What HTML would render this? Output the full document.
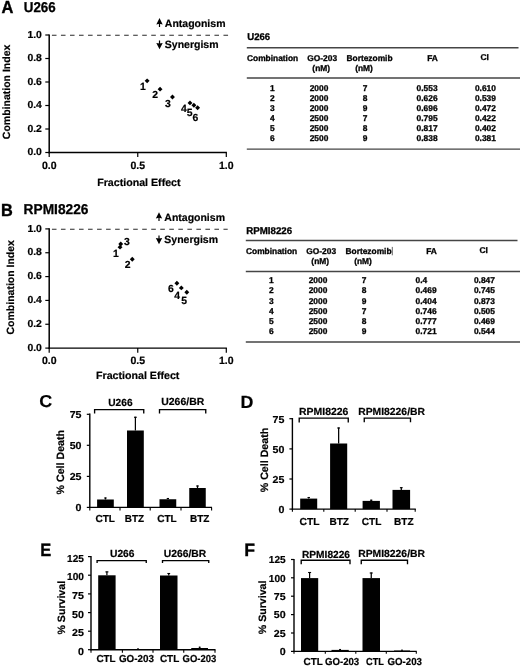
<!DOCTYPE html>
<html><head><meta charset="utf-8"><title>Figure</title>
<style>
html,body{margin:0;padding:0;background:#fff;}
body{width:520px;height:668px;overflow:hidden;font-family:"Liberation Sans",sans-serif;}
svg{display:block;will-change:transform;opacity:0.999}
svg text{font-family:"Liberation Sans",sans-serif;font-weight:bold;stroke:#000;stroke-width:0.2px;text-rendering:geometricPrecision;}
</style></head><body>
<svg width="520" height="668" viewBox="0 0 520 668">
<rect width="520" height="668" fill="#fff"/>
<text x="1.4" y="13.4" font-size="17.6" textLength="11.9" lengthAdjust="spacingAndGlyphs" fill="#000" style="stroke-width:0.4px">A</text>
<text x="23.8" y="12.0" font-size="14.2" textLength="31.9" lengthAdjust="spacingAndGlyphs" fill="#000" style="stroke-width:0.3px">U266</text>
<line x1="49.2" y1="34.4" x2="49.2" y2="153.2" stroke="#000" stroke-width="1.5"/>
<line x1="48.5" y1="152.5" x2="226.9" y2="152.5" stroke="#000" stroke-width="1.45"/>
<line x1="45.3" y1="35.0" x2="49.2" y2="35.0" stroke="#000" stroke-width="1.2"/>
<text x="41.9" y="37.6" font-size="10.2" text-anchor="end" textLength="14.46" lengthAdjust="spacingAndGlyphs" fill="#000">1.0</text>
<line x1="45.3" y1="58.5" x2="49.2" y2="58.5" stroke="#000" stroke-width="1.2"/>
<text x="41.9" y="61.1" font-size="10.2" text-anchor="end" textLength="14.46" lengthAdjust="spacingAndGlyphs" fill="#000">0.8</text>
<line x1="45.3" y1="82.0" x2="49.2" y2="82.0" stroke="#000" stroke-width="1.2"/>
<text x="41.9" y="84.6" font-size="10.2" text-anchor="end" textLength="14.46" lengthAdjust="spacingAndGlyphs" fill="#000">0.6</text>
<line x1="45.3" y1="105.5" x2="49.2" y2="105.5" stroke="#000" stroke-width="1.2"/>
<text x="41.9" y="108.1" font-size="10.2" text-anchor="end" textLength="14.46" lengthAdjust="spacingAndGlyphs" fill="#000">0.4</text>
<line x1="45.3" y1="129.0" x2="49.2" y2="129.0" stroke="#000" stroke-width="1.2"/>
<text x="41.9" y="131.6" font-size="10.2" text-anchor="end" textLength="14.46" lengthAdjust="spacingAndGlyphs" fill="#000">0.2</text>
<line x1="45.3" y1="152.5" x2="49.2" y2="152.5" stroke="#000" stroke-width="1.2"/>
<text x="41.9" y="155.1" font-size="10.2" text-anchor="end" textLength="14.46" lengthAdjust="spacingAndGlyphs" fill="#000">0.0</text>
<line x1="49.2" y1="152.5" x2="49.2" y2="157.1" stroke="#000" stroke-width="1.2"/>
<text x="49.2" y="168.6" font-size="10.5" text-anchor="middle" fill="#000">0.0</text>
<line x1="137.75" y1="152.5" x2="137.75" y2="157.1" stroke="#000" stroke-width="1.2"/>
<text x="137.75" y="168.6" font-size="10.5" text-anchor="middle" fill="#000">0.5</text>
<line x1="226.3" y1="152.5" x2="226.3" y2="157.1" stroke="#000" stroke-width="1.2"/>
<text x="226.3" y="168.6" font-size="10.5" text-anchor="middle" fill="#000">1.0</text>
<line x1="51.9" y1="35.25" x2="228.1" y2="35.25" stroke="#2a2a2a" stroke-width="1.05" stroke-dasharray="4.6 4.43"/>
<text x="164.8" y="26.7" font-size="10.5" fill="#000">Antagonism</text>
<text x="164.8" y="47.7" font-size="10.5" fill="#000">Synergism</text>
<line x1="159.5" y1="21.5" x2="159.5" y2="27.0" stroke="#000" stroke-width="1.2"/>
<path d="M159.5 18.1L162.7 24.4L159.5 23.8L156.3 24.4Z" fill="#000"/>
<line x1="159.5" y1="40.5" x2="159.5" y2="45.900000000000006" stroke="#000" stroke-width="1.2"/>
<path d="M159.5 49.300000000000004L162.7 43.00000000000001L159.5 43.60000000000001L156.3 43.00000000000001Z" fill="#000"/>
<text x="97.2" y="185.6" font-size="10.5" textLength="83.4" lengthAdjust="spacingAndGlyphs" fill="#000">Fractional Effect</text>
<text x="9.6" y="91.9" font-size="10.5" text-anchor="middle" transform="rotate(-90 9.6 91.9)" fill="#000">Combination Index</text>
<path d="M144.69 80.83L147.14 78.38L149.59 80.83L147.14 83.28Z" fill="#000"/>
<path d="M157.61 89.17L160.06 86.72L162.51 89.17L160.06 91.62Z" fill="#000"/>
<path d="M170.01 97.04L172.46 94.59L174.91 97.04L172.46 99.49Z" fill="#000"/>
<path d="M187.54 102.91L189.99 100.46L192.44 102.91L189.99 105.36Z" fill="#000"/>
<path d="M191.44 105.27L193.89 102.81L196.34 105.27L193.89 107.72Z" fill="#000"/>
<path d="M195.16 107.73L197.61 105.28L200.06 107.73L197.61 110.18Z" fill="#000"/>
<text x="143" y="90.2" font-size="10.4" text-anchor="middle" fill="#000">1</text>
<text x="155.25" y="98.3" font-size="10.4" text-anchor="middle" fill="#000">2</text>
<text x="168" y="106.7" font-size="10.4" text-anchor="middle" fill="#000">3</text>
<text x="184" y="111.7" font-size="10.4" text-anchor="middle" fill="#000">4</text>
<text x="189.75" y="115.7" font-size="10.4" text-anchor="middle" fill="#000">5</text>
<text x="195.4" y="120.95" font-size="10.4" text-anchor="middle" fill="#000">6</text>
<text x="0.9" y="215.7" font-size="17.6" textLength="11.8" lengthAdjust="spacingAndGlyphs" fill="#000" style="stroke-width:0.4px">B</text>
<text x="23.6" y="214.4" font-size="14.2" textLength="64.8" lengthAdjust="spacingAndGlyphs" fill="#000" style="stroke-width:0.3px">RPMI8226</text>
<line x1="49.2" y1="228.3" x2="49.2" y2="348.8" stroke="#000" stroke-width="1.5"/>
<line x1="48.5" y1="348.1" x2="226.9" y2="348.1" stroke="#000" stroke-width="1.45"/>
<line x1="45.3" y1="228.9" x2="49.2" y2="228.9" stroke="#000" stroke-width="1.2"/>
<text x="41.9" y="231.5" font-size="10.2" text-anchor="end" textLength="14.46" lengthAdjust="spacingAndGlyphs" fill="#000">1.0</text>
<line x1="45.3" y1="252.74" x2="49.2" y2="252.74" stroke="#000" stroke-width="1.2"/>
<text x="41.9" y="255.34" font-size="10.2" text-anchor="end" textLength="14.46" lengthAdjust="spacingAndGlyphs" fill="#000">0.8</text>
<line x1="45.3" y1="276.58000000000004" x2="49.2" y2="276.58000000000004" stroke="#000" stroke-width="1.2"/>
<text x="41.9" y="279.18" font-size="10.2" text-anchor="end" textLength="14.46" lengthAdjust="spacingAndGlyphs" fill="#000">0.6</text>
<line x1="45.3" y1="300.42" x2="49.2" y2="300.42" stroke="#000" stroke-width="1.2"/>
<text x="41.9" y="303.02" font-size="10.2" text-anchor="end" textLength="14.46" lengthAdjust="spacingAndGlyphs" fill="#000">0.4</text>
<line x1="45.3" y1="324.26" x2="49.2" y2="324.26" stroke="#000" stroke-width="1.2"/>
<text x="41.9" y="326.86" font-size="10.2" text-anchor="end" textLength="14.46" lengthAdjust="spacingAndGlyphs" fill="#000">0.2</text>
<line x1="45.3" y1="348.1" x2="49.2" y2="348.1" stroke="#000" stroke-width="1.2"/>
<text x="41.9" y="350.7" font-size="10.2" text-anchor="end" textLength="14.46" lengthAdjust="spacingAndGlyphs" fill="#000">0.0</text>
<line x1="49.2" y1="348.1" x2="49.2" y2="352.70000000000005" stroke="#000" stroke-width="1.2"/>
<text x="49.2" y="364.1" font-size="10.5" text-anchor="middle" fill="#000">0.0</text>
<line x1="137.75" y1="348.1" x2="137.75" y2="352.70000000000005" stroke="#000" stroke-width="1.2"/>
<text x="137.75" y="364.1" font-size="10.5" text-anchor="middle" fill="#000">0.5</text>
<line x1="226.3" y1="348.1" x2="226.3" y2="352.70000000000005" stroke="#000" stroke-width="1.2"/>
<text x="226.3" y="364.1" font-size="10.5" text-anchor="middle" fill="#000">1.0</text>
<line x1="51.9" y1="229.15" x2="227.7" y2="229.15" stroke="#2a2a2a" stroke-width="1.05" stroke-dasharray="4.6 4.43"/>
<text x="164.3" y="220.75" font-size="10.5" fill="#000">Antagonism</text>
<text x="164.3" y="242.6" font-size="10.5" fill="#000">Synergism</text>
<line x1="159" y1="215.55" x2="159" y2="221.05" stroke="#000" stroke-width="1.2"/>
<path d="M159 212.15L162.2 218.45000000000002L159 217.85000000000002L155.8 218.45000000000002Z" fill="#000"/>
<line x1="159" y1="235.4" x2="159" y2="240.79999999999998" stroke="#000" stroke-width="1.2"/>
<path d="M159 244.2L162.2 237.89999999999998L159 238.49999999999997L155.8 237.89999999999998Z" fill="#000"/>
<text x="96" y="378.6" font-size="10.5" textLength="83.4" lengthAdjust="spacingAndGlyphs" fill="#000">Fractional Effect</text>
<text x="13.8" y="287.3" font-size="10.5" text-anchor="middle" transform="rotate(-90 13.8 287.3)" fill="#000">Combination Index</text>
<path d="M117.59 247.14L120.04 244.69L122.49 247.14L120.04 249.59Z" fill="#000"/>
<path d="M129.81 259.30L132.26 256.85L134.71 259.30L132.26 261.75Z" fill="#000"/>
<path d="M118.30 244.04L120.75 241.59L123.20 244.04L120.75 246.49Z" fill="#000"/>
<path d="M178.87 287.90L181.32 285.45L183.77 287.90L181.32 290.35Z" fill="#000"/>
<path d="M184.36 292.20L186.81 289.75L189.26 292.20L186.81 294.65Z" fill="#000"/>
<path d="M174.44 283.26L176.89 280.81L179.34 283.26L176.89 285.71Z" fill="#000"/>
<text x="126.9" y="244.6" font-size="10.4" text-anchor="middle" fill="#000">3</text>
<text x="116" y="257.1" font-size="10.4" text-anchor="middle" fill="#000">1</text>
<text x="127.75" y="267.8" font-size="10.4" text-anchor="middle" fill="#000">2</text>
<text x="170.9" y="292.2" font-size="10.4" text-anchor="middle" fill="#000">6</text>
<text x="177.25" y="299.1" font-size="10.4" text-anchor="middle" fill="#000">4</text>
<text x="184.1" y="303.95" font-size="10.4" text-anchor="middle" fill="#000">5</text>
<text x="247.2" y="39.9" font-size="9.8" textLength="23" lengthAdjust="spacingAndGlyphs" fill="#000" style="stroke-width:0.3px">U266</text>
<line x1="246.8" y1="47.7" x2="518.5" y2="47.7" stroke="#454545" stroke-width="1.45"/>
<text x="247" y="60.900000000000006" font-size="8.4" fill="#000" style="stroke-width:0.3px">Combination</text>
<text x="322.2" y="60.900000000000006" font-size="8.4" text-anchor="middle" fill="#000" style="stroke-width:0.3px">GO-203</text>
<text x="321.2" y="70.7" font-size="8.4" text-anchor="middle" fill="#000" style="stroke-width:0.3px">(nM)</text>
<text x="369.5" y="60.900000000000006" font-size="8.4" text-anchor="middle" fill="#000" style="stroke-width:0.3px">Bortezomib</text>
<text x="364" y="70.7" font-size="8.4" text-anchor="middle" fill="#000" style="stroke-width:0.3px">(nM)</text>
<text x="432.5" y="60.900000000000006" font-size="8.4" text-anchor="middle" fill="#000" style="stroke-width:0.3px">FA</text>
<text x="484.6" y="60.2" font-size="8.4" text-anchor="middle" fill="#000" style="stroke-width:0.3px">CI</text>
<line x1="246.8" y1="78.0" x2="520" y2="78.0" stroke="#454545" stroke-width="1.45"/>
<text x="272.3" y="90.5" font-size="8.4" text-anchor="middle" fill="#000" style="stroke-width:0.3px">1</text>
<text x="319" y="90.5" font-size="8.4" text-anchor="middle" fill="#000" style="stroke-width:0.3px">2000</text>
<text x="365.2" y="90.5" font-size="8.4" text-anchor="middle" fill="#000" style="stroke-width:0.3px">7</text>
<text x="416.6" y="90.5" font-size="8.4" fill="#000" style="stroke-width:0.3px">0.553</text>
<text x="485.4" y="90.5" font-size="8.4" text-anchor="middle" fill="#000" style="stroke-width:0.3px">0.610</text>
<text x="272.3" y="100.6" font-size="8.4" text-anchor="middle" fill="#000" style="stroke-width:0.3px">2</text>
<text x="319" y="100.6" font-size="8.4" text-anchor="middle" fill="#000" style="stroke-width:0.3px">2000</text>
<text x="365.2" y="100.6" font-size="8.4" text-anchor="middle" fill="#000" style="stroke-width:0.3px">8</text>
<text x="416.6" y="100.6" font-size="8.4" fill="#000" style="stroke-width:0.3px">0.626</text>
<text x="485.4" y="100.6" font-size="8.4" text-anchor="middle" fill="#000" style="stroke-width:0.3px">0.539</text>
<text x="272.3" y="110.7" font-size="8.4" text-anchor="middle" fill="#000" style="stroke-width:0.3px">3</text>
<text x="319" y="110.7" font-size="8.4" text-anchor="middle" fill="#000" style="stroke-width:0.3px">2000</text>
<text x="365.2" y="110.7" font-size="8.4" text-anchor="middle" fill="#000" style="stroke-width:0.3px">9</text>
<text x="416.6" y="110.7" font-size="8.4" fill="#000" style="stroke-width:0.3px">0.696</text>
<text x="485.4" y="110.7" font-size="8.4" text-anchor="middle" fill="#000" style="stroke-width:0.3px">0.472</text>
<text x="272.3" y="120.8" font-size="8.4" text-anchor="middle" fill="#000" style="stroke-width:0.3px">4</text>
<text x="319" y="120.8" font-size="8.4" text-anchor="middle" fill="#000" style="stroke-width:0.3px">2500</text>
<text x="365.2" y="120.8" font-size="8.4" text-anchor="middle" fill="#000" style="stroke-width:0.3px">7</text>
<text x="416.6" y="120.8" font-size="8.4" fill="#000" style="stroke-width:0.3px">0.795</text>
<text x="485.4" y="120.8" font-size="8.4" text-anchor="middle" fill="#000" style="stroke-width:0.3px">0.422</text>
<text x="272.3" y="130.9" font-size="8.4" text-anchor="middle" fill="#000" style="stroke-width:0.3px">5</text>
<text x="319" y="130.9" font-size="8.4" text-anchor="middle" fill="#000" style="stroke-width:0.3px">2500</text>
<text x="365.2" y="130.9" font-size="8.4" text-anchor="middle" fill="#000" style="stroke-width:0.3px">8</text>
<text x="416.6" y="130.9" font-size="8.4" fill="#000" style="stroke-width:0.3px">0.817</text>
<text x="485.4" y="130.9" font-size="8.4" text-anchor="middle" fill="#000" style="stroke-width:0.3px">0.402</text>
<text x="272.3" y="141.0" font-size="8.4" text-anchor="middle" fill="#000" style="stroke-width:0.3px">6</text>
<text x="319" y="141.0" font-size="8.4" text-anchor="middle" fill="#000" style="stroke-width:0.3px">2500</text>
<text x="365.2" y="141.0" font-size="8.4" text-anchor="middle" fill="#000" style="stroke-width:0.3px">9</text>
<text x="416.6" y="141.0" font-size="8.4" fill="#000" style="stroke-width:0.3px">0.838</text>
<text x="485.4" y="141.0" font-size="8.4" text-anchor="middle" fill="#000" style="stroke-width:0.3px">0.381</text>
<line x1="246.8" y1="149.10000000000002" x2="520" y2="149.10000000000002" stroke="#454545" stroke-width="1.45"/>
<text x="246.2" y="233.9" font-size="9.8" textLength="46" lengthAdjust="spacingAndGlyphs" fill="#000" style="stroke-width:0.3px">RPMI8226</text>
<line x1="245.8" y1="240.5" x2="517.5" y2="240.5" stroke="#454545" stroke-width="1.45"/>
<text x="246" y="253.7" font-size="8.4" fill="#000" style="stroke-width:0.3px">Combination</text>
<text x="321.2" y="253.7" font-size="8.4" text-anchor="middle" fill="#000" style="stroke-width:0.3px">GO-203</text>
<text x="320.2" y="263.5" font-size="8.4" text-anchor="middle" fill="#000" style="stroke-width:0.3px">(nM)</text>
<text x="368.5" y="253.7" font-size="8.4" text-anchor="middle" fill="#000" style="stroke-width:0.3px">Bortezomib</text>
<text x="363" y="263.5" font-size="8.4" text-anchor="middle" fill="#000" style="stroke-width:0.3px">(nM)</text>
<text x="431.5" y="253.7" font-size="8.4" text-anchor="middle" fill="#000" style="stroke-width:0.3px">FA</text>
<text x="483.6" y="253.0" font-size="8.4" text-anchor="middle" fill="#000" style="stroke-width:0.3px">CI</text>
<line x1="392.3" y1="246.89999999999998" x2="392.3" y2="255.29999999999998" stroke="#222" stroke-width="0.7"/>
<line x1="245.8" y1="271.5" x2="520" y2="271.5" stroke="#454545" stroke-width="1.45"/>
<text x="271.3" y="283.3" font-size="8.4" text-anchor="middle" fill="#000" style="stroke-width:0.3px">1</text>
<text x="318" y="283.3" font-size="8.4" text-anchor="middle" fill="#000" style="stroke-width:0.3px">2000</text>
<text x="364.2" y="283.3" font-size="8.4" text-anchor="middle" fill="#000" style="stroke-width:0.3px">7</text>
<text x="415.6" y="283.3" font-size="8.4" fill="#000" style="stroke-width:0.3px">0.4</text>
<text x="484.4" y="283.3" font-size="8.4" text-anchor="middle" fill="#000" style="stroke-width:0.3px">0.847</text>
<text x="271.3" y="293.40000000000003" font-size="8.4" text-anchor="middle" fill="#000" style="stroke-width:0.3px">2</text>
<text x="318" y="293.40000000000003" font-size="8.4" text-anchor="middle" fill="#000" style="stroke-width:0.3px">2000</text>
<text x="364.2" y="293.40000000000003" font-size="8.4" text-anchor="middle" fill="#000" style="stroke-width:0.3px">8</text>
<text x="415.6" y="293.40000000000003" font-size="8.4" fill="#000" style="stroke-width:0.3px">0.469</text>
<text x="484.4" y="293.40000000000003" font-size="8.4" text-anchor="middle" fill="#000" style="stroke-width:0.3px">0.745</text>
<text x="271.3" y="303.5" font-size="8.4" text-anchor="middle" fill="#000" style="stroke-width:0.3px">3</text>
<text x="318" y="303.5" font-size="8.4" text-anchor="middle" fill="#000" style="stroke-width:0.3px">2000</text>
<text x="364.2" y="303.5" font-size="8.4" text-anchor="middle" fill="#000" style="stroke-width:0.3px">9</text>
<text x="415.6" y="303.5" font-size="8.4" fill="#000" style="stroke-width:0.3px">0.404</text>
<text x="484.4" y="303.5" font-size="8.4" text-anchor="middle" fill="#000" style="stroke-width:0.3px">0.873</text>
<text x="271.3" y="313.6" font-size="8.4" text-anchor="middle" fill="#000" style="stroke-width:0.3px">4</text>
<text x="318" y="313.6" font-size="8.4" text-anchor="middle" fill="#000" style="stroke-width:0.3px">2500</text>
<text x="364.2" y="313.6" font-size="8.4" text-anchor="middle" fill="#000" style="stroke-width:0.3px">7</text>
<text x="415.6" y="313.6" font-size="8.4" fill="#000" style="stroke-width:0.3px">0.746</text>
<text x="484.4" y="313.6" font-size="8.4" text-anchor="middle" fill="#000" style="stroke-width:0.3px">0.505</text>
<text x="271.3" y="323.7" font-size="8.4" text-anchor="middle" fill="#000" style="stroke-width:0.3px">5</text>
<text x="318" y="323.7" font-size="8.4" text-anchor="middle" fill="#000" style="stroke-width:0.3px">2500</text>
<text x="364.2" y="323.7" font-size="8.4" text-anchor="middle" fill="#000" style="stroke-width:0.3px">8</text>
<text x="415.6" y="323.7" font-size="8.4" fill="#000" style="stroke-width:0.3px">0.777</text>
<text x="484.4" y="323.7" font-size="8.4" text-anchor="middle" fill="#000" style="stroke-width:0.3px">0.469</text>
<text x="271.3" y="333.8" font-size="8.4" text-anchor="middle" fill="#000" style="stroke-width:0.3px">6</text>
<text x="318" y="333.8" font-size="8.4" text-anchor="middle" fill="#000" style="stroke-width:0.3px">2500</text>
<text x="364.2" y="333.8" font-size="8.4" text-anchor="middle" fill="#000" style="stroke-width:0.3px">9</text>
<text x="415.6" y="333.8" font-size="8.4" fill="#000" style="stroke-width:0.3px">0.721</text>
<text x="484.4" y="333.8" font-size="8.4" text-anchor="middle" fill="#000" style="stroke-width:0.3px">0.544</text>
<line x1="245.8" y1="341.90000000000003" x2="520" y2="341.90000000000003" stroke="#454545" stroke-width="1.45"/>
<text x="39.2" y="406.9" font-size="17.2" textLength="13.0" lengthAdjust="spacingAndGlyphs" fill="#000" style="stroke-width:0.15px">C</text>
<line x1="89.8" y1="413.6" x2="89.8" y2="508.0" stroke="#000" stroke-width="1.4"/>
<line x1="89.2" y1="507.4" x2="212.0" y2="507.4" stroke="#000" stroke-width="1.4"/>
<line x1="86.8" y1="414.3" x2="89.8" y2="414.3" stroke="#000" stroke-width="1.2"/>
<text x="81.5" y="418.2" font-size="10.1" text-anchor="end" textLength="11.85" lengthAdjust="spacingAndGlyphs" fill="#000">75</text>
<line x1="86.8" y1="445.3" x2="89.8" y2="445.3" stroke="#000" stroke-width="1.2"/>
<text x="81.5" y="449.2" font-size="10.1" text-anchor="end" textLength="11.85" lengthAdjust="spacingAndGlyphs" fill="#000">50</text>
<line x1="86.8" y1="476.4" x2="89.8" y2="476.4" stroke="#000" stroke-width="1.2"/>
<text x="81.5" y="480.3" font-size="10.1" text-anchor="end" textLength="11.85" lengthAdjust="spacingAndGlyphs" fill="#000">25</text>
<line x1="86.8" y1="507.4" x2="89.8" y2="507.4" stroke="#000" stroke-width="1.2"/>
<text x="81.5" y="511.3" font-size="10.1" text-anchor="end" textLength="5.93" lengthAdjust="spacingAndGlyphs" fill="#000">0</text>
<line x1="89.8" y1="507.4" x2="89.8" y2="510.4" stroke="#000" stroke-width="1.1"/>
<line x1="120.0" y1="507.4" x2="120.0" y2="510.4" stroke="#000" stroke-width="1.1"/>
<line x1="150.2" y1="507.4" x2="150.2" y2="510.4" stroke="#000" stroke-width="1.1"/>
<line x1="181.0" y1="507.4" x2="181.0" y2="510.4" stroke="#000" stroke-width="1.1"/>
<line x1="211.6" y1="507.4" x2="211.6" y2="510.4" stroke="#000" stroke-width="1.1"/>
<rect x="97.1" y="499.5" width="16.7" height="7.9" fill="#000"/>
<line x1="105.44999999999999" y1="497.5" x2="105.44999999999999" y2="499.5" stroke="#000" stroke-width="1.25"/>
<line x1="104.24999999999999" y1="498.0" x2="106.64999999999999" y2="498.0" stroke="#000" stroke-width="1.1"/>
<rect x="127.0" y="430.5" width="16.8" height="76.9" fill="#000"/>
<line x1="135.4" y1="416.75" x2="135.4" y2="430.5" stroke="#000" stroke-width="1.25"/>
<line x1="134.0" y1="417.25" x2="136.8" y2="417.25" stroke="#000" stroke-width="1.1"/>
<rect x="159.5" y="499.25" width="16.75" height="8.15" fill="#000"/>
<line x1="167.875" y1="498" x2="167.875" y2="499.25" stroke="#000" stroke-width="1.25"/>
<line x1="166.725" y1="498.5" x2="169.025" y2="498.5" stroke="#000" stroke-width="1.1"/>
<rect x="189.25" y="488" width="16.5" height="19.4" fill="#000"/>
<line x1="197.5" y1="485.5" x2="197.5" y2="488" stroke="#000" stroke-width="1.25"/>
<line x1="196.2" y1="486.0" x2="198.8" y2="486.0" stroke="#000" stroke-width="1.1"/>
<text x="105.25" y="521.8" font-size="10.1" text-anchor="middle" textLength="19.5" lengthAdjust="spacingAndGlyphs" fill="#000">CTL</text>
<text x="134.4" y="521.8" font-size="10.1" text-anchor="middle" textLength="19.3" lengthAdjust="spacingAndGlyphs" fill="#000">BTZ</text>
<text x="166.9" y="521.8" font-size="10.1" text-anchor="middle" textLength="19.5" lengthAdjust="spacingAndGlyphs" fill="#000">CTL</text>
<text x="199.75" y="521.8" font-size="10.1" text-anchor="middle" textLength="19.5" lengthAdjust="spacingAndGlyphs" fill="#000">BTZ</text>
<text x="63.7" y="462.2" font-size="10.65" text-anchor="middle" transform="rotate(-90 63.7 462.2)" fill="#000">% Cell Death</text>
<text x="120.4" y="405.7" font-size="10.299999999999999" text-anchor="middle" textLength="24.3" lengthAdjust="spacingAndGlyphs" fill="#000">U266</text>
<path d="M94.6 413.4V409.6H143.75V413.4" fill="none" stroke="#000" stroke-width="1.35"/>
<text x="182.75" y="405.1" font-size="10.299999999999999" text-anchor="middle" textLength="43" lengthAdjust="spacingAndGlyphs" fill="#000">U266/BR</text>
<path d="M159.5 413.4V409.6H205.75V413.4" fill="none" stroke="#000" stroke-width="1.35"/>
<text x="240.5" y="407.6" font-size="17.6" textLength="12.9" lengthAdjust="spacingAndGlyphs" fill="#000" style="stroke-width:0.2px">D</text>
<line x1="292.4" y1="418.0" x2="292.4" y2="509.70000000000005" stroke="#000" stroke-width="1.4"/>
<line x1="291.79999999999995" y1="509.1" x2="415.8" y2="509.1" stroke="#000" stroke-width="1.4"/>
<line x1="289.4" y1="418.7" x2="292.4" y2="418.7" stroke="#000" stroke-width="1.2"/>
<text x="284.4" y="423.0" font-size="10.1" text-anchor="end" textLength="11.85" lengthAdjust="spacingAndGlyphs" fill="#000">75</text>
<line x1="289.4" y1="448.9" x2="292.4" y2="448.9" stroke="#000" stroke-width="1.2"/>
<text x="284.4" y="453.2" font-size="10.1" text-anchor="end" textLength="11.85" lengthAdjust="spacingAndGlyphs" fill="#000">50</text>
<line x1="289.4" y1="479.0" x2="292.4" y2="479.0" stroke="#000" stroke-width="1.2"/>
<text x="284.4" y="483.3" font-size="10.1" text-anchor="end" textLength="11.85" lengthAdjust="spacingAndGlyphs" fill="#000">25</text>
<line x1="289.4" y1="509.1" x2="292.4" y2="509.1" stroke="#000" stroke-width="1.2"/>
<text x="284.4" y="513.4" font-size="10.1" text-anchor="end" textLength="5.93" lengthAdjust="spacingAndGlyphs" fill="#000">0</text>
<line x1="292.4" y1="509.1" x2="292.4" y2="511.70000000000005" stroke="#000" stroke-width="1.1"/>
<line x1="323.8" y1="509.1" x2="323.8" y2="511.70000000000005" stroke="#000" stroke-width="1.1"/>
<line x1="355.2" y1="509.1" x2="355.2" y2="511.70000000000005" stroke="#000" stroke-width="1.1"/>
<line x1="387" y1="509.1" x2="387" y2="511.70000000000005" stroke="#000" stroke-width="1.1"/>
<line x1="415.2" y1="509.1" x2="415.2" y2="511.70000000000005" stroke="#000" stroke-width="1.1"/>
<rect x="300.2" y="498.6" width="17.0" height="10.5" fill="#000"/>
<line x1="308.7" y1="497" x2="308.7" y2="498.6" stroke="#000" stroke-width="1.25"/>
<line x1="307.5" y1="497.5" x2="309.9" y2="497.5" stroke="#000" stroke-width="1.1"/>
<rect x="330.1" y="443.5" width="17.1" height="65.6" fill="#000"/>
<line x1="338.65" y1="427.5" x2="338.65" y2="443.5" stroke="#000" stroke-width="1.25"/>
<line x1="337.25" y1="428.0" x2="340.04999999999995" y2="428.0" stroke="#000" stroke-width="1.1"/>
<rect x="362.6" y="500.9" width="17.3" height="8.2" fill="#000"/>
<line x1="371.25" y1="499.7" x2="371.25" y2="500.9" stroke="#000" stroke-width="1.25"/>
<line x1="370.1" y1="500.2" x2="372.4" y2="500.2" stroke="#000" stroke-width="1.1"/>
<rect x="392.5" y="489.9" width="17.6" height="19.2" fill="#000"/>
<line x1="401.3" y1="487.2" x2="401.3" y2="489.9" stroke="#000" stroke-width="1.25"/>
<line x1="399.90000000000003" y1="487.7" x2="402.7" y2="487.7" stroke="#000" stroke-width="1.1"/>
<text x="309.5" y="525.0" font-size="10.1" text-anchor="middle" textLength="20" lengthAdjust="spacingAndGlyphs" fill="#000">CTL</text>
<text x="339.2" y="525.0" font-size="10.1" text-anchor="middle" textLength="19.6" lengthAdjust="spacingAndGlyphs" fill="#000">BTZ</text>
<text x="371.6" y="525.0" font-size="10.1" text-anchor="middle" textLength="19.6" lengthAdjust="spacingAndGlyphs" fill="#000">CTL</text>
<text x="403.9" y="525.0" font-size="10.1" text-anchor="middle" textLength="19.6" lengthAdjust="spacingAndGlyphs" fill="#000">BTZ</text>
<text x="268.2" y="460" font-size="10.65" text-anchor="middle" transform="rotate(-90 268.2 460)" fill="#000">% Cell Death</text>
<text x="323.7" y="414.5" font-size="10.299999999999999" text-anchor="middle" textLength="49.3" lengthAdjust="spacingAndGlyphs" fill="#000">RPMI8226</text>
<path d="M299.2 422.5V418.1H348.25V422.5" fill="none" stroke="#000" stroke-width="1.35"/>
<text x="391.6" y="414.5" font-size="10.299999999999999" text-anchor="middle" textLength="66.8" lengthAdjust="spacingAndGlyphs" fill="#000">RPMI8226/BR</text>
<path d="M364.25 422.3V418.1H410.5V422.3" fill="none" stroke="#000" stroke-width="1.35"/>
<text x="40.3" y="556.0" font-size="17.8" textLength="11.0" lengthAdjust="spacingAndGlyphs" fill="#000" style="stroke-width:0.3px">E</text>
<line x1="91.0" y1="556.0" x2="91.0" y2="650.3000000000001" stroke="#000" stroke-width="1.4"/>
<line x1="90.4" y1="649.7" x2="215.5" y2="649.7" stroke="#000" stroke-width="1.4"/>
<line x1="88.0" y1="556.6" x2="91.0" y2="556.6" stroke="#000" stroke-width="1.2"/>
<text x="83.9" y="561.5" font-size="10.1" text-anchor="end" textLength="16.85" lengthAdjust="spacingAndGlyphs" fill="#000">125</text>
<line x1="88.0" y1="575.2" x2="91.0" y2="575.2" stroke="#000" stroke-width="1.2"/>
<text x="83.9" y="580.1" font-size="10.1" text-anchor="end" textLength="16.85" lengthAdjust="spacingAndGlyphs" fill="#000">100</text>
<line x1="88.0" y1="593.9" x2="91.0" y2="593.9" stroke="#000" stroke-width="1.2"/>
<text x="83.9" y="598.8" font-size="10.1" text-anchor="end" textLength="11.85" lengthAdjust="spacingAndGlyphs" fill="#000">75</text>
<line x1="88.0" y1="612.6" x2="91.0" y2="612.6" stroke="#000" stroke-width="1.2"/>
<text x="83.9" y="617.5" font-size="10.1" text-anchor="end" textLength="11.85" lengthAdjust="spacingAndGlyphs" fill="#000">50</text>
<line x1="88.0" y1="631.2" x2="91.0" y2="631.2" stroke="#000" stroke-width="1.2"/>
<text x="83.9" y="636.1" font-size="10.1" text-anchor="end" textLength="11.85" lengthAdjust="spacingAndGlyphs" fill="#000">25</text>
<line x1="88.0" y1="649.7" x2="91.0" y2="649.7" stroke="#000" stroke-width="1.2"/>
<text x="83.9" y="654.6" font-size="10.1" text-anchor="end" textLength="5.93" lengthAdjust="spacingAndGlyphs" fill="#000">0</text>
<line x1="91" y1="649.7" x2="91" y2="652.7" stroke="#000" stroke-width="1.1"/>
<line x1="122.4" y1="649.7" x2="122.4" y2="652.7" stroke="#000" stroke-width="1.1"/>
<line x1="153" y1="649.7" x2="153" y2="652.7" stroke="#000" stroke-width="1.1"/>
<line x1="183.75" y1="649.7" x2="183.75" y2="652.7" stroke="#000" stroke-width="1.1"/>
<line x1="215" y1="649.7" x2="215" y2="652.7" stroke="#000" stroke-width="1.1"/>
<rect x="98.2" y="575.3" width="17.4" height="74.4" fill="#000"/>
<line x1="106.9" y1="571.4" x2="106.9" y2="575.3" stroke="#000" stroke-width="1.25"/>
<line x1="105.4" y1="571.9" x2="108.4" y2="571.9" stroke="#000" stroke-width="1.1"/>
<rect x="130" y="649.2" width="16" height="0.5" fill="#000"/>
<line x1="138.0" y1="648.6" x2="138.0" y2="649.2" stroke="#000" stroke-width="1.25"/>
<line x1="137.1" y1="649.1" x2="138.9" y2="649.1" stroke="#000" stroke-width="1.1"/>
<rect x="160" y="575.5" width="17.5" height="74.2" fill="#000"/>
<line x1="168.75" y1="573" x2="168.75" y2="575.5" stroke="#000" stroke-width="1.25"/>
<line x1="167.35" y1="573.5" x2="170.15" y2="573.5" stroke="#000" stroke-width="1.1"/>
<rect x="191.25" y="648" width="16.75" height="1.7" fill="#000"/>
<line x1="199.625" y1="646.75" x2="199.625" y2="648" stroke="#000" stroke-width="1.25"/>
<line x1="198.725" y1="647.25" x2="200.525" y2="647.25" stroke="#000" stroke-width="1.1"/>
<text x="106" y="662.4" font-size="10.1" text-anchor="middle" textLength="19.2" lengthAdjust="spacingAndGlyphs" fill="#000">CTL</text>
<text x="136.4" y="662.4" font-size="10.1" text-anchor="middle" textLength="35" lengthAdjust="spacingAndGlyphs" fill="#000">GO-203</text>
<text x="169.6" y="662.4" font-size="10.1" text-anchor="middle" textLength="19.3" lengthAdjust="spacingAndGlyphs" fill="#000">CTL</text>
<text x="199.4" y="662.4" font-size="10.1" text-anchor="middle" textLength="33.8" lengthAdjust="spacingAndGlyphs" fill="#000">GO-203</text>
<text x="64.6" y="607.7" font-size="10.6" text-anchor="middle" transform="rotate(-90 64.6 607.7)" fill="#000">% Survival</text>
<text x="122.25" y="557" font-size="10.299999999999999" text-anchor="middle" textLength="24.5" lengthAdjust="spacingAndGlyphs" fill="#000">U266</text>
<path d="M97.1 562.9V560.6H146.25V562.9" fill="none" stroke="#000" stroke-width="1.35"/>
<text x="185" y="557" font-size="10.299999999999999" text-anchor="middle" textLength="42.5" lengthAdjust="spacingAndGlyphs" fill="#000">U266/BR</text>
<path d="M162.5 562.9V560.6H208.75V562.9" fill="none" stroke="#000" stroke-width="1.35"/>
<text x="244.3" y="556.0" font-size="17.8" textLength="10.8" lengthAdjust="spacingAndGlyphs" fill="#000" style="stroke-width:0.3px">F</text>
<line x1="294.0" y1="558.9" x2="294.0" y2="652.0" stroke="#000" stroke-width="1.4"/>
<line x1="293.4" y1="651.4" x2="416.75" y2="651.4" stroke="#000" stroke-width="1.4"/>
<line x1="291.0" y1="559.5" x2="294.0" y2="559.5" stroke="#000" stroke-width="1.2"/>
<text x="285.7" y="563.2" font-size="10.1" text-anchor="end" textLength="16.85" lengthAdjust="spacingAndGlyphs" fill="#000">125</text>
<line x1="291.0" y1="577.8" x2="294.0" y2="577.8" stroke="#000" stroke-width="1.2"/>
<text x="285.7" y="581.5" font-size="10.1" text-anchor="end" textLength="16.85" lengthAdjust="spacingAndGlyphs" fill="#000">100</text>
<line x1="291.0" y1="596.2" x2="294.0" y2="596.2" stroke="#000" stroke-width="1.2"/>
<text x="285.7" y="599.9" font-size="10.1" text-anchor="end" textLength="11.85" lengthAdjust="spacingAndGlyphs" fill="#000">75</text>
<line x1="291.0" y1="614.6" x2="294.0" y2="614.6" stroke="#000" stroke-width="1.2"/>
<text x="285.7" y="618.3" font-size="10.1" text-anchor="end" textLength="11.85" lengthAdjust="spacingAndGlyphs" fill="#000">50</text>
<line x1="291.0" y1="633.0" x2="294.0" y2="633.0" stroke="#000" stroke-width="1.2"/>
<text x="285.7" y="636.7" font-size="10.1" text-anchor="end" textLength="11.85" lengthAdjust="spacingAndGlyphs" fill="#000">25</text>
<line x1="291.0" y1="651.4" x2="294.0" y2="651.4" stroke="#000" stroke-width="1.2"/>
<text x="285.7" y="655.1" font-size="10.1" text-anchor="end" textLength="5.93" lengthAdjust="spacingAndGlyphs" fill="#000">0</text>
<line x1="294" y1="651.4" x2="294" y2="653.8" stroke="#000" stroke-width="1.1"/>
<line x1="325.3" y1="651.4" x2="325.3" y2="653.8" stroke="#000" stroke-width="1.1"/>
<line x1="355.8" y1="651.4" x2="355.8" y2="653.8" stroke="#000" stroke-width="1.1"/>
<line x1="386.3" y1="651.4" x2="386.3" y2="653.8" stroke="#000" stroke-width="1.1"/>
<line x1="416.3" y1="651.4" x2="416.3" y2="653.8" stroke="#000" stroke-width="1.1"/>
<rect x="301.0" y="578.1" width="17.2" height="73.3" fill="#000"/>
<line x1="309.6" y1="572" x2="309.6" y2="578.1" stroke="#000" stroke-width="1.25"/>
<line x1="308.1" y1="572.5" x2="311.1" y2="572.5" stroke="#000" stroke-width="1.1"/>
<rect x="331.5" y="649.9" width="17.25" height="1.5" fill="#000"/>
<line x1="340.125" y1="649.0" x2="340.125" y2="649.9" stroke="#000" stroke-width="1.25"/>
<line x1="339.225" y1="649.5" x2="341.025" y2="649.5" stroke="#000" stroke-width="1.1"/>
<rect x="362.5" y="578.1" width="17.5" height="73.3" fill="#000"/>
<line x1="371.25" y1="572.5" x2="371.25" y2="578.1" stroke="#000" stroke-width="1.25"/>
<line x1="369.75" y1="573.0" x2="372.75" y2="573.0" stroke="#000" stroke-width="1.1"/>
<rect x="394" y="650.5" width="16" height="0.9" fill="#000"/>
<line x1="402.0" y1="649.8" x2="402.0" y2="650.5" stroke="#000" stroke-width="1.25"/>
<line x1="401.1" y1="650.3" x2="402.9" y2="650.3" stroke="#000" stroke-width="1.1"/>
<text x="313.1" y="665.0" font-size="10.1" text-anchor="middle" textLength="19.2" lengthAdjust="spacingAndGlyphs" fill="#000">CTL</text>
<text x="342.1" y="665.0" font-size="10.1" text-anchor="middle" textLength="34.3" lengthAdjust="spacingAndGlyphs" fill="#000">GO-203</text>
<text x="375" y="665.0" font-size="10.1" text-anchor="middle" textLength="17.8" lengthAdjust="spacingAndGlyphs" fill="#000">CTL</text>
<text x="404.75" y="665.0" font-size="10.1" text-anchor="middle" textLength="34.5" lengthAdjust="spacingAndGlyphs" fill="#000">GO-203</text>
<text x="265.6" y="607.4" font-size="10.6" text-anchor="middle" transform="rotate(-90 265.6 607.4)" fill="#000">% Survival</text>
<text x="326" y="557.5" font-size="10.299999999999999" text-anchor="middle" textLength="48" lengthAdjust="spacingAndGlyphs" fill="#000">RPMI8226</text>
<path d="M301.2 564.2V560.2H350V564.2" fill="none" stroke="#000" stroke-width="1.35"/>
<text x="391.6" y="557" font-size="10.299999999999999" text-anchor="middle" textLength="66.8" lengthAdjust="spacingAndGlyphs" fill="#000">RPMI8226/BR</text>
<path d="M361.25 564.2V560.2H407.5V564.2" fill="none" stroke="#000" stroke-width="1.35"/>
</svg>
</body></html>
